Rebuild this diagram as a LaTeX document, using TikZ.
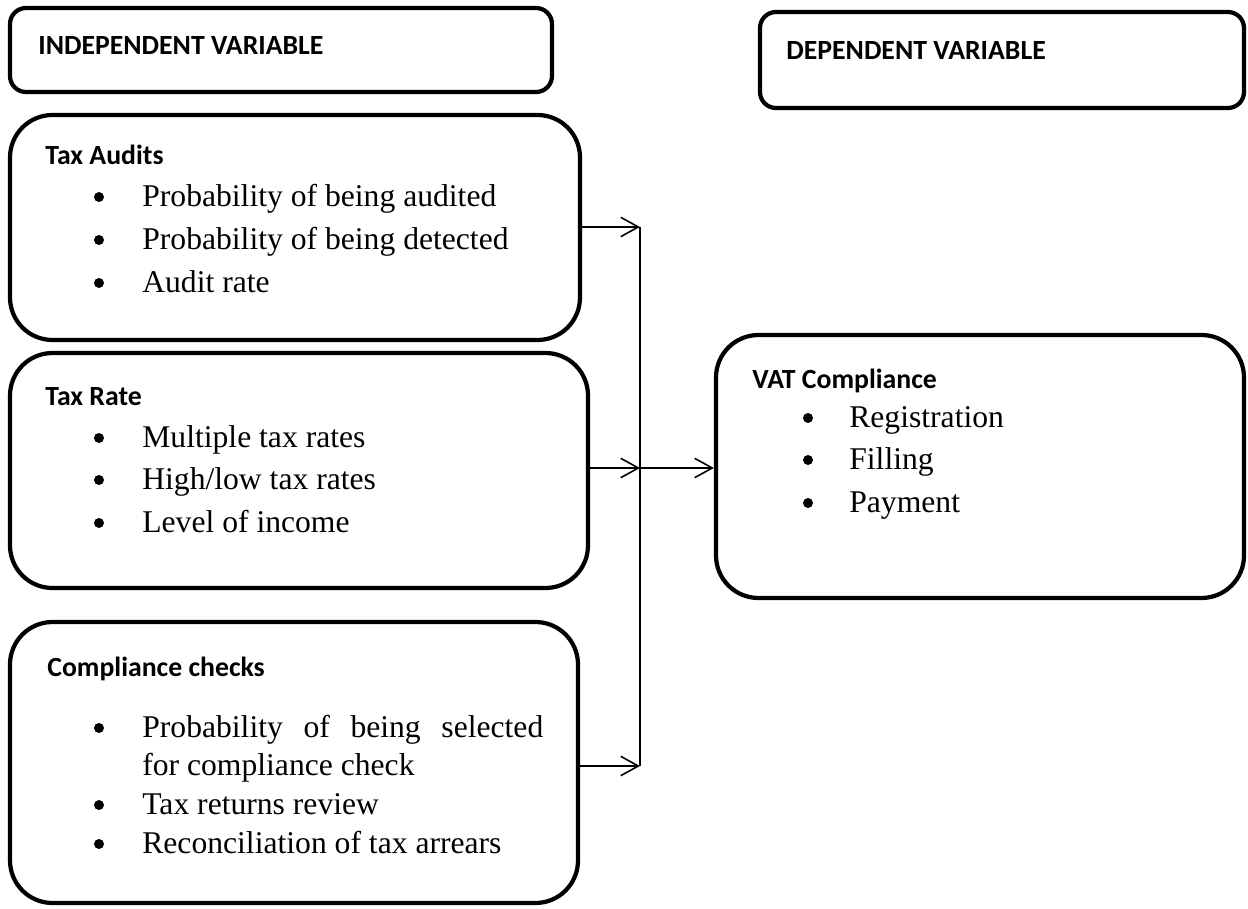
\documentclass[tikz,border=0pt]{standalone}
\usepackage{fontspec}
\setmainfont{Liberation Serif}
\newfontfamily\hdrfont{Carlito}
\usetikzlibrary{fit,arrows.meta}
\tikzset{
  bigbox/.style   = {draw=black, line width=2.4pt, rounded corners=0.85cm, inner sep=0pt},
  smallbox/.style = {draw=black, line width=2.4pt, rounded corners=0.32cm, inner sep=0pt},
  hdr/.style      = {font=\hdrfont\bfseries\fontsize{15.8}{18}\selectfont, anchor=base west, inner sep=0pt},
  item/.style     = {font=\fontsize{18}{21}\selectfont, anchor=base west, inner sep=0pt},
  dot/.style      = {circle, fill=black, inner sep=0pt, minimum size=0.2cm},
  arrowto/.style  = {-{Straight Barb[length=10pt,width=11pt,line width=0.9pt]}, line width=0.85pt},
  bus/.style      = {line width=0.85pt},
}
\begin{document}
\begin{tikzpicture}[x=0.02cm,y=-0.02cm]
  \useasboundingbox (0,0) rectangle (1248,909);

  % ---- headings ----
  \node[smallbox, fit={(10,8) (552,92)}] (indep) {};
  \node[hdr] (indeplbl) at (38,55) {INDEPENDENT VARIABLE};
  \node[smallbox, fit={(760,12) (1244,108)}] (dep) {};
  \node[hdr] (deplbl) at (786,60) {DEPENDENT VARIABLE};

  % ---- left: tax audits ----
  \node[bigbox, fit={(10,115) (580,340)}] (audit) {};
  \node[hdr] (auditlbl) at (45,165) {Tax Audits};
  \foreach \t/\y/\k in {Probability of being audited/206/1, Probability of being detected/249/2, Audit rate/292/3} {
    \node[dot] (auditdot\k) at (99,\y-9) {};
    \node[item] (audititem\k) at (142,\y) {\t};
  }

  % ---- left: tax rate ----
  \node[bigbox, fit={(10,353) (588,588)}] (rate) {};
  \node[hdr] (ratelbl) at (45,405) {Tax Rate};
  \foreach \t/\y/\k in {{Multiple tax rates}/447/1, {High/low tax rates}/489/2, {Level of income}/532/3} {
    \node[dot] (ratedot\k) at (99,\y-9) {};
    \node[item] (rateitem\k) at (142,\y) {\t};
  }

  % ---- left: compliance checks ----
  \node[bigbox, fit={(10,622) (578,903)}] (checks) {};
  \node[hdr] (checkslbl) at (47,676) {Compliance checks};
  \node[dot] (checksdot1) at (99,728) {};
  \node[item] (checksitem1) at (142,737) {\makebox[8.02cm][s]{Probability of being selected}};
  \node[item] (checksitem1b) at (142,775) {for compliance check};
  \foreach \t/\y/\k in {Tax returns review/814/2, Reconciliation of tax arrears/853/3} {
    \node[dot] (checksdot\k) at (99,\y-9) {};
    \node[item] (checksitem\k) at (142,\y) {\t};
  }

  % ---- right: vat compliance ----
  \node[bigbox, fit={(716,335) (1244,598)}] (vat) {};
  \node[hdr] (vatlbl) at (752,388) {VAT Compliance};
  \foreach \t/\y/\k in {Registration/427/1, Filling/469/2, Payment/512/3} {
    \node[dot] (vatdot\k) at (808,\y-9) {};
    \node[item] (vatitem\k) at (849,\y) {\t};
  }

  % ---- connectors ----
  \coordinate (b1) at (640,227);
  \coordinate (b2) at (640,468);
  \coordinate (b3) at (640,766);
  \draw[bus] (b1) -- (b3);
  \draw[arrowto] (audit.east |- b1) -- (b1);
  \draw[arrowto] (rate.east |- b2) -- (b2);
  \draw[arrowto] (checks.east |- b3) -- (b3);
  \draw[arrowto] (b2) -- (vat.west |- b2);
\end{tikzpicture}
\end{document}
